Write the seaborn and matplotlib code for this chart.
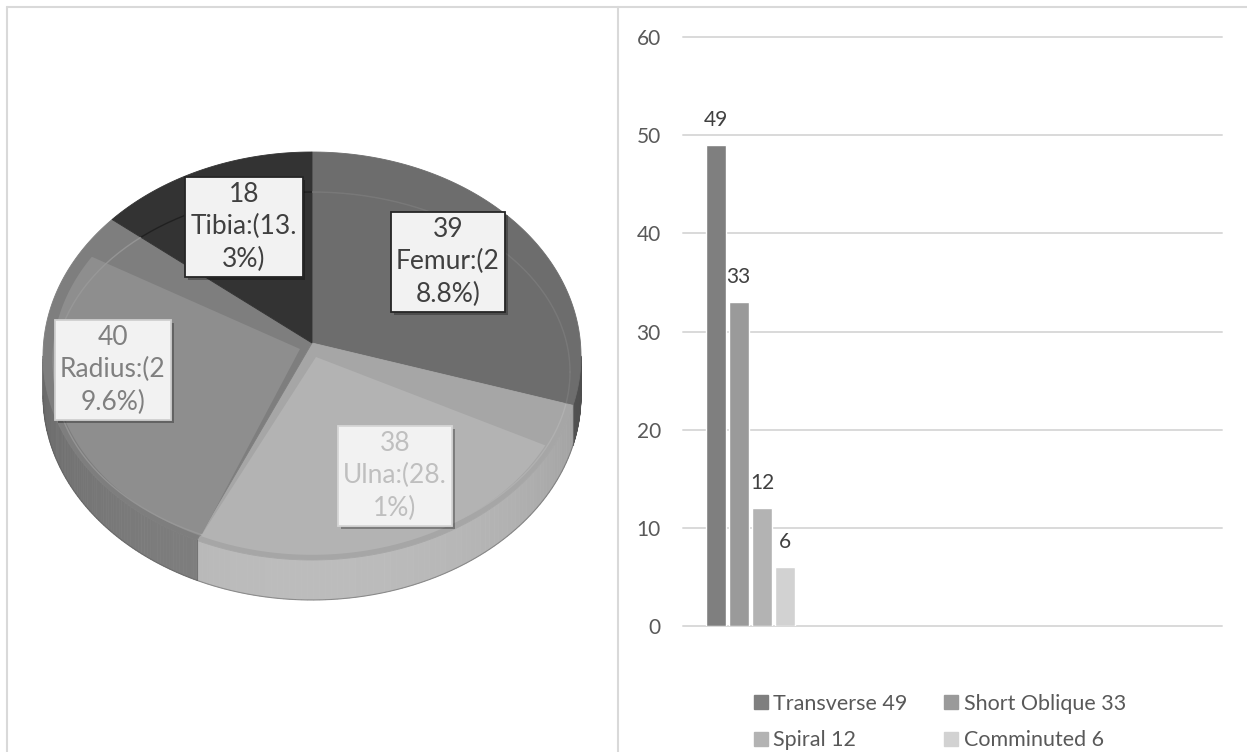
import numpy as np
import pandas as pd
import matplotlib
matplotlib.use("Agg")
import matplotlib.pyplot as plt
import matplotlib.patches as mpatches
import matplotlib.patheffects as pe
from matplotlib.collections import PolyCollection
from matplotlib.lines import Line2D
import seaborn as sns

# Dữ liệu biểu đồ tròn (vị trí gãy xương)
bones = ["Femur", "Ulna", "Radius", "Tibia"]
bone_counts = [39, 38, 40, 18]
bone_labels = ["39\nFemur:(2\n8.8%)", "38\nUlna:(28.\n1%)",
               "40\nRadius:(2\n9.6%)", "18\nTibia:(13.\n3%)"]

# Dữ liệu biểu đồ cột (loại gãy)
fracture_types = ["Transverse", "Short Oblique", "Spiral", "Comminuted"]
fracture_counts = [49, 33, 12, 6]

# Màu sắc
top_colors = ["#6d6d6d", "#b3b3b3", "#8e8e8e", "#333333"]
band_colors = ["#6d6d6d", "#a6a6a6", "#7e7e7e", "#333333"]
side_colors = ["#5e5e5e", "#bcbcbc", "#808080", "#2a2a2a"]
ring_colors = ["#7c7c7c", "#b3b3b3", "#9a9a9a", "#1c1c1c"]
label_text_colors = ["#404040", "#bfbfbf", "#808080", "#404040"]
label_edge_colors = ["#262626", "#d6d6d6", "#cfcfcf", "#262626"]
bar_colors = ["#7f7f7f", "#9a9a9a", "#b3b3b3", "#d2d2d2"]

W, H = 1247, 752
sns.set_theme(style="white")
plt.rcParams["font.family"] = ["Lato", "DejaVu Sans"]

fig = plt.figure(figsize=(W / 100, H / 100), dpi=100)
fig.patch.set_facecolor("white")

# ---------------- Biểu đồ tròn 3D (trái) ----------------
ax_pie = fig.add_axes([0, 0, 620 / W, 1])
ax_pie.set_xlim(0, 620)
ax_pie.set_ylim(H, 0)
ax_pie.axis("off")

cx, cy = 312, 356          # tâm elip mặt trên
apex = (312, 343)          # điểm hội tụ các lát
rx, ry, depth = 269, 204, 40

frac = np.array(bone_counts) / np.sum(bone_counts)
bounds = 90 - 360 * np.concatenate([[0], np.cumsum(frac)])  # độ, theo chiều kim đồng hồ


def ell(t_deg, sx=1.0, sy=1.0, ox=0.0, oy=0.0):
    t = np.radians(t_deg)
    return cx + ox + rx * sx * np.cos(t), cy + oy - ry * sy * np.sin(t)


# Mặt bên (chỉ phần phía trước)
for i in range(len(bones)):
    t0, t1 = bounds[i], bounds[i + 1]
    lo, hi = max(t1, -180), min(t0, 0)
    if hi <= lo:
        continue
    ts = np.linspace(hi, lo, 80)
    polys, cols = [], []
    base = np.array(matplotlib.colors.to_rgb(side_colors[i]))
    for a, b in zip(ts[:-1], ts[1:]):
        xa, ya = ell(a)
        xb, yb = ell(b)
        polys.append([(xa, ya), (xb, yb), (xb, yb + depth), (xa, ya + depth)])
        s = abs(np.sin(np.radians((a + b) / 2)))
        f = 0.82 + 0.18 * s
        cols.append(np.clip(base * f, 0, 1))
    ax_pie.add_collection(PolyCollection(polys, facecolors=cols, edgecolors=cols, linewidths=0.5))
    for t in (hi, lo):
        if -180 < t < 0:
            x, y = ell(t)
            ax_pie.plot([x, x], [y, y + depth], color="#6a6a6a", lw=0.8, alpha=0.6)

# viền dưới
tb = np.linspace(-180, 0, 200)
xb, yb = ell(tb)
ax_pie.plot(xb, yb + depth, color="#555555", lw=0.8, alpha=0.5)

# Mặt trên: lát + dải vát
lead_band = [0, 12, 0, 0]
trail_band = [0, 0, 10, 0]
inner_shift = [(0, 0), (4, 14), (-12, 6), (0, 0)]
for i in range(len(bones)):
    t0, t1 = bounds[i], bounds[i + 1]
    ts = np.linspace(t0, t1, 120)
    x, y = ell(ts)
    verts = np.vstack([[apex], np.column_stack([x, y])])
    face = mpatches.Polygon(verts, closed=True, fc=band_colors[i], ec=band_colors[i], lw=0.6)
    ax_pie.add_patch(face)

    if lead_band[i] or trail_band[i]:
        ts2 = np.linspace(t0 - lead_band[i], t1 + trail_band[i], 120)
        x2, y2 = ell(ts2, 0.965, 0.955, 0, 4)
        ap = (apex[0] + inner_shift[i][0], apex[1] + inner_shift[i][1])
        v2 = np.vstack([[ap], np.column_stack([x2, y2])])
        ax_pie.add_patch(mpatches.Polygon(v2, closed=True, fc=top_colors[i], ec="none"))

    # đường elip mờ bên trong (hiệu ứng vát)
    tr = np.linspace(0, 360, 300)
    xr = cx + 258 * np.cos(np.radians(tr))
    yr = 372 - 180 * np.sin(np.radians(tr))
    ring, = ax_pie.plot(xr, yr, color=ring_colors[i], lw=1.0, alpha=0.8)
    ring.set_clip_path(face)

# Nhãn dữ liệu
label_pos = [(448, 262), (395, 476), (113, 370), (244, 227)]
for i in range(len(bones)):
    t = ax_pie.text(label_pos[i][0], label_pos[i][1], bone_labels[i],
                    ha="center", va="center", fontsize=19, linespacing=1.36,
                    color=label_text_colors[i],
                    bbox=dict(boxstyle="square,pad=0.2", fc="#f2f2f2",
                              ec=label_edge_colors[i], lw=1.3))
    t.get_bbox_patch().set_path_effects(
        [pe.SimplePatchShadow(offset=(2, -2), shadow_rgbFace="black", alpha=0.3), pe.Normal()])

# ---------------- Biểu đồ cột (phải) ----------------
x0, x1, y_top, y_bot = 683, 1222, 37, 626
ax_bar = fig.add_axes([x0 / W, 1 - y_bot / H, (x1 - x0) / W, (y_bot - y_top) / H])

bar_df = pd.DataFrame({
    "group": [""] * len(fracture_types),
    "type": fracture_types,
    "count": fracture_counts,
})
sns.barplot(data=bar_df, x="group", y="count", hue="type", hue_order=fracture_types,
            palette=bar_colors, saturation=1, width=0.69, gap=0.14,
            legend=False, ax=ax_bar)

ax_bar.set_xlim(-0.5, 3.5)
ax_bar.set_ylim(0, 60)
ax_bar.set_yticks(range(0, 61, 10))
ax_bar.set_xticks([])
ax_bar.set_xlabel("")
ax_bar.set_ylabel("")
ax_bar.tick_params(axis="y", length=0, pad=16, labelsize=15, labelcolor="#595959")
ax_bar.yaxis.grid(True, color="#d9d9d9", lw=1.4)
ax_bar.set_axisbelow(True)
for gl in ax_bar.get_ygridlines():
    gl.set_clip_on(False)
for sp in ax_bar.spines.values():
    sp.set_visible(False)
ax_bar.set_facecolor("none")

for c in ax_bar.containers:
    ax_bar.bar_label(c, padding=11, fontsize=15, color="#404040")

# Chú thích: xếp theo hàng (2 cột)
handles = [mpatches.Patch(color=bar_colors[i], label=f"{fracture_types[i]} {fracture_counts[i]}")
           for i in range(len(fracture_types))]
handles = [handles[0], handles[2], handles[1], handles[3]]
fig.legend(handles=handles, loc="center", bbox_to_anchor=(940 / W, 1 - 722 / H),
           ncol=2, frameon=False, fontsize=15.5, labelcolor="#595959",
           handlelength=0.65, handleheight=0.65, handletextpad=0.25,
           columnspacing=1.7, labelspacing=0.78, borderpad=0)

# Khung viền
def px_line(xa, ya, xb, yb):
    fig.add_artist(Line2D([xa / W, xb / W], [1 - ya / H, 1 - yb / H],
                          transform=fig.transFigure, color="#d9d9d9", lw=1.5))

px_line(6.5, 6.5, W, 6.5)
px_line(6.5, 6.5, 6.5, H)
px_line(618, 6.5, 618, H)

fig.savefig("out.png", dpi=100)
